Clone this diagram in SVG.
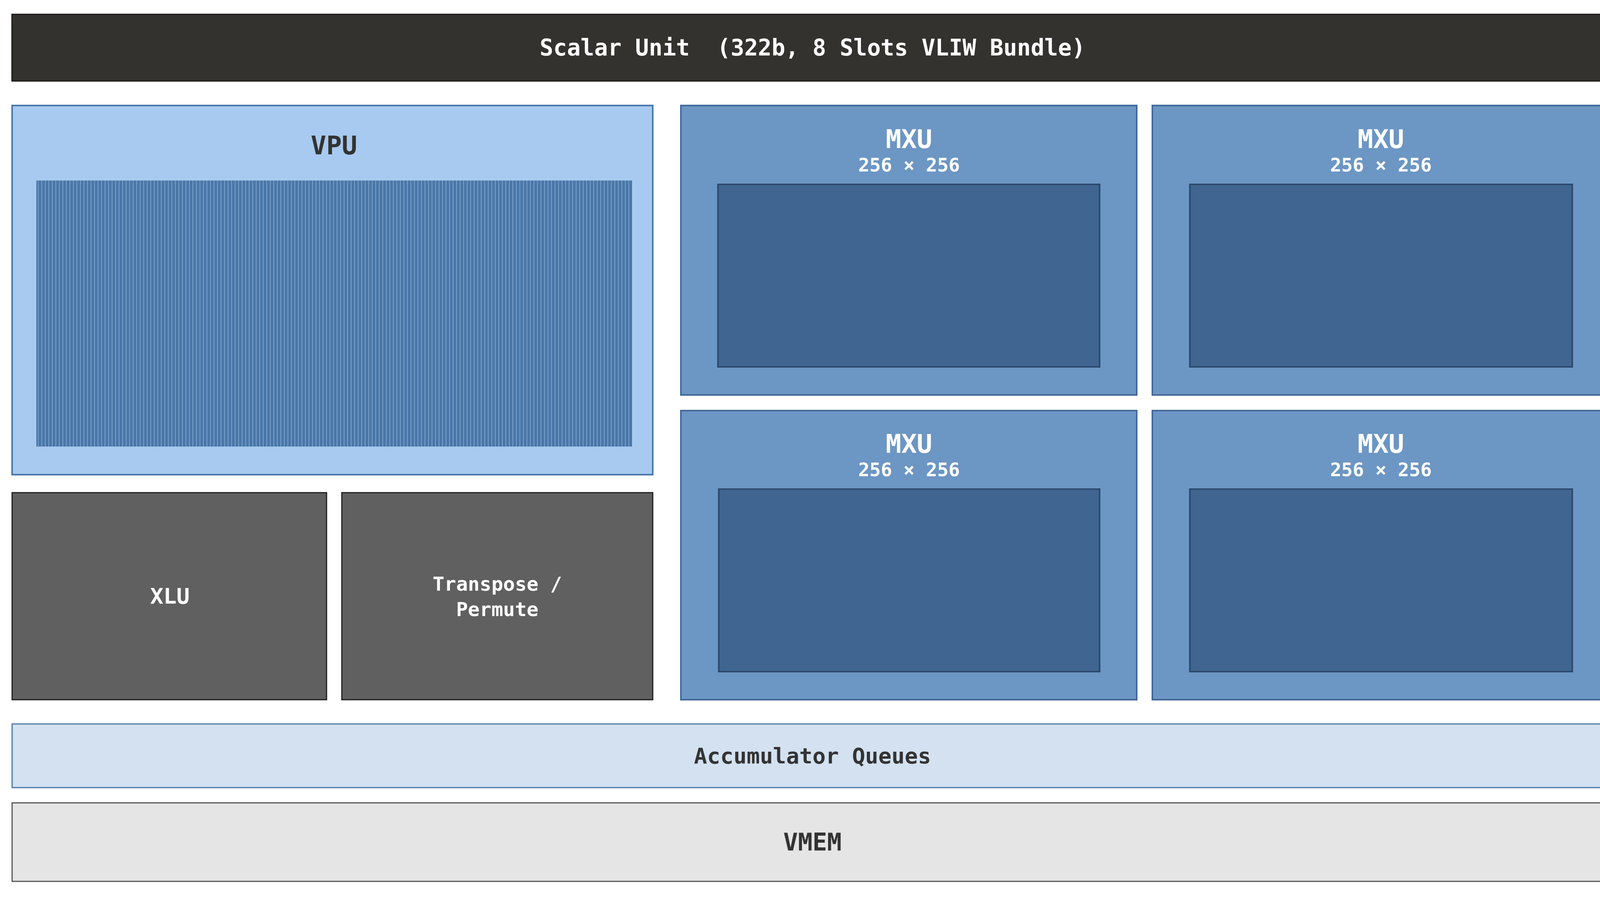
<svg xmlns="http://www.w3.org/2000/svg" width="4160" height="2296" viewBox="0 0 4160 2296">
<defs>
<pattern id="hatch" width="9" height="40" patternUnits="userSpaceOnUse">
<rect width="9" height="40" fill="#4a77a8"/>
<rect x="7" width="1.6" height="40" fill="#86abd6"/>
</pattern>
<style>
text{font-family:"DejaVu Sans Mono","Liberation Mono",monospace;font-weight:bold;text-anchor:middle;dominant-baseline:central}
.mxu{fill:#6c96c3;stroke:#44699a;stroke-width:4}
.in{fill:#3f6590;stroke:#2c4a6d;stroke-width:4}
.w{fill:#ffffff}
.dk{fill:#333333}
.gr{fill:#606060;stroke:#1e1e1e;stroke-width:3}
</style>
</defs>
<rect width="4160" height="2296" fill="#ffffff"/>
<g id="scalar"><rect x="31" y="37" width="4089" height="170" fill="#33322e" stroke="#262521" stroke-width="4"/><text class="w" x="2080" y="122" font-size="58" xml:space="preserve">Scalar Unit  (322b, 8 Slots VLIW Bundle)</text></g>
<g id="vpu"><rect x="31" y="270" width="1640" height="945" fill="#a8caf0" stroke="#4a77a8" stroke-width="4"/><rect x="93" y="462" width="1525" height="681" fill="url(#hatch)"/><text class="dk" x="855" y="372" font-size="66">VPU</text></g>
<g id="mxu1"><rect class="mxu" x="1743" y="270" width="1167" height="741"/><rect class="in" x="1838" y="472" width="977" height="467"/><text class="w" x="2327" y="356" font-size="66">MXU</text><text class="w" x="2327" y="422" font-size="48">256 × 256</text></g>
<g id="mxu2"><rect class="mxu" x="2950" y="270" width="1170" height="741"/><rect class="in" x="3046" y="472" width="979" height="467"/><text class="w" x="3535" y="356" font-size="66">MXU</text><text class="w" x="3535" y="422" font-size="48">256 × 256</text></g>
<g id="mxu3"><rect class="mxu" x="1743" y="1051" width="1167" height="740"/><rect class="in" x="1840" y="1252" width="975" height="467"/><text class="w" x="2327" y="1136" font-size="66">MXU</text><text class="w" x="2327" y="1202" font-size="48">256 × 256</text></g>
<g id="mxu4"><rect class="mxu" x="2950" y="1051" width="1170" height="740"/><rect class="in" x="3046" y="1252" width="979" height="467"/><text class="w" x="3535" y="1136" font-size="66">MXU</text><text class="w" x="3535" y="1202" font-size="48">256 × 256</text></g>
<g id="xlu"><rect class="gr" x="31" y="1261" width="805" height="530"/><text class="w" x="435" y="1525" font-size="56">XLU</text></g>
<g id="transpose"><rect class="gr" x="875" y="1261" width="796" height="530"/><text class="w" x="1273" y="1495" font-size="50">Transpose /</text><text class="w" x="1273" y="1560" font-size="50">Permute</text></g>
<g id="accum"><rect x="31" y="1853" width="4089" height="163" fill="#d3e1f0" stroke="#4a77a8" stroke-width="3"/><text class="dk" x="2080" y="1934" font-size="56">Accumulator Queues</text></g>
<g id="vmem"><rect x="31" y="2055" width="4089" height="201" fill="#e5e5e5" stroke="#555555" stroke-width="3"/><text class="dk" x="2080" y="2155" font-size="62">VMEM</text></g>
<g id="connectors"></g>
</svg>
